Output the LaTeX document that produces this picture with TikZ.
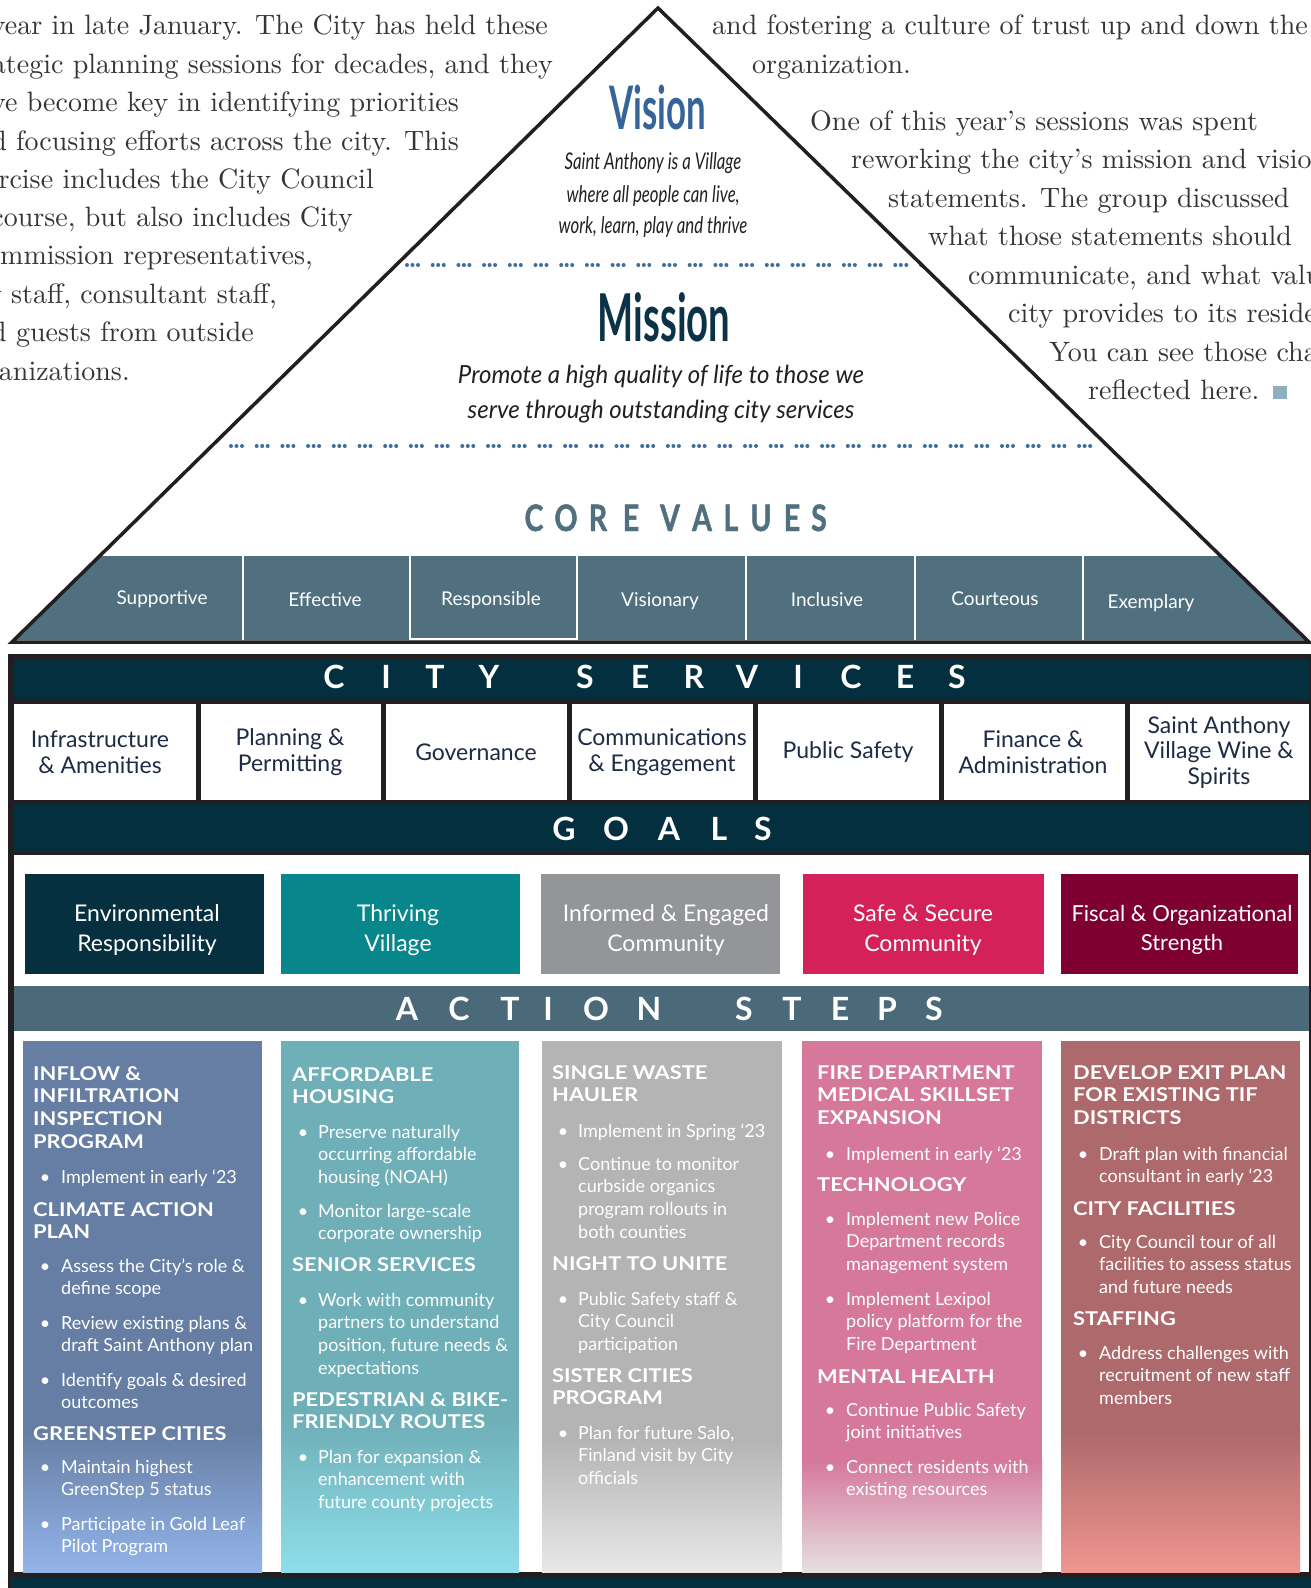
\documentclass[tikz,border=0pt]{standalone}
\usepackage{fontspec}
\setsansfont{Lato}
\newfontfamily\bodyf{lmroman10-regular}[Extension=.otf]
\newfontfamily\titlef[FakeStretch=0.58]{Lato}
\newfontfamily\vsubf[FakeStretch=0.73]{Lato}
\newfontfamily\misf[FakeStretch=0.96]{Lato}
\newfontfamily\cvf[FakeStretch=0.78,FakeBold=1.2]{Lato}
\newfontfamily\hdf[FakeStretch=1.15]{Lato}
\definecolor{navy}{HTML}{032F3E}
\definecolor{framec}{HTML}{231F20}
\definecolor{slate}{HTML}{50707F}
\definecolor{actband}{HTML}{4A6A79}
\definecolor{visblue}{HTML}{35649A}
\definecolor{misnavy}{HTML}{0B3246}
\definecolor{dotblue}{HTML}{3E6D9E}
\definecolor{bodygray}{HTML}{353535}
\definecolor{svctext}{HTML}{1D2B45}
\definecolor{sqblue}{HTML}{8FAFC0}
\definecolor{gEnv}{HTML}{06303F}
\definecolor{gThr}{HTML}{07868C}
\definecolor{gInf}{HTML}{939598}
\definecolor{gSaf}{HTML}{D4215A}
\definecolor{gFis}{HTML}{7E0033}
\definecolor{aOneT}{HTML}{667EA3}\definecolor{aOneB}{HTML}{93B4EA}
\definecolor{aTwoT}{HTML}{6FAFB8}\definecolor{aTwoB}{HTML}{8EDEEA}
\definecolor{aThrT}{HTML}{B4B4B4}\definecolor{aThrB}{HTML}{E8E8E8}
\definecolor{aFouT}{HTML}{D5789A}\definecolor{aFouB}{HTML}{E6E0E2}
\definecolor{aFivT}{HTML}{AD696B}\definecolor{aFivB}{HTML}{F0958F}
\tikzset{
  body/.style={font=\bodyf\fontsize{28}{38}\selectfont, text=bodygray, inner sep=0pt},
  trline/.style={line width=3.5pt, draw=framec, line join=miter},
  dotsline/.style={draw=dotblue, line width=4pt, line cap=round, dash pattern=on 0pt off 5.5pt on 0pt off 5.5pt on 0pt off 14.7pt},
  cvlabel/.style={text=white, font=\sffamily\fontsize{19}{22}\selectfont, inner sep=0pt, anchor=base},
  bandlet/.style={text=white, font=\sffamily\bfseries\fontsize{32}{36}\selectfont, inner sep=0pt, anchor=base},
  cvlet/.style={text=slate, font=\cvf\bfseries\fontsize{36.5}{40}\selectfont, inner sep=0pt, anchor=base},
  svc/.style={text=svctext, font=\sffamily\fontsize{23}{25.5}\selectfont, align=center, inner sep=0pt},
  goal/.style={text=white, font=\sffamily\fontsize{23}{29.4}\selectfont, align=center, inner sep=0pt},
  ahd/.style={text=white, font=\hdf\bfseries\fontsize{19}{22.8}\selectfont, align=left, anchor=north west, inner sep=0pt},
  abl/.style={text=white, font=\sffamily\fontsize{18}{22.8}\selectfont, align=left, anchor=north west, inner sep=0pt},
  bul/.style={text=white, font=\sffamily\fontsize{18}{22.8}\selectfont, anchor=base, inner sep=0pt},
  divl/.style={draw=framec, line width=5pt},
  cvdiv/.style={draw=white, line width=2.5pt}
}
\newcommand\AH[4]{\node[ahd] (#1) at (#2,#3-16) {\strut#4};}
\newcommand\AB[5]{\node[bul] (#1b) at (#2,#4) {\textbullet};\node[abl] (#1) at (#3,#4-16) {\strut#5};}
\begin{document}
\begin{tikzpicture}[x=1pt,y=-1pt]
\useasboundingbox (0,0) rectangle (1311,1588);
\begin{scope}
\clip (0,0) rectangle (1311,1588);
\fill[white] (0,0) rectangle (1311,1588);
% left body text
\node[body,anchor=base east] (l1) at (548,34) {this year in late January. The City has held these};
\node[body,anchor=base east] (l2) at (553,73) {strategic planning sessions for decades, and they};
\node[body,anchor=base east] (l3) at (459,111) {have become key in identifying priorities};
\node[body,anchor=base east] (l4) at (459,150) {and focusing efforts across the city. This};
\node[body,anchor=base east] (l5) at (374,188) {exercise includes the City Council};
\node[body,anchor=base east] (l6) at (353,226) {of course, but also includes City};
\node[body,anchor=base east] (l7) at (313,264) {Commission representatives,};
\node[body,anchor=base east] (l8) at (277,303) {City staff, consultant staff,};
\node[body,anchor=base east] (l9) at (254,341) {and guests from outside};
\node[body,anchor=base east] (l10) at (130,380) {organizations.};
% right body text
\node[body,anchor=base west] (r1) at (712,34) {and fostering a culture of trust up and down the};
\node[body,anchor=base west] (r2) at (752,73) {organization.};
\node[body,anchor=base west] (r3) at (810,130) {One of this year’s sessions was spent};
\node[body,anchor=base west] (r4) at (851,168) {reworking the city’s mission and vision};
\node[body,anchor=base west] (r5) at (888,207) {statements. The group discussed};
\node[body,anchor=base west] (r6) at (928,245) {what those statements should};
\node[body,anchor=base west] (r7) at (968,284) {communicate, and what values the};
\node[body,anchor=base west] (r8) at (1008,322) {city provides to its residents.};
\node[body,anchor=base west] (r9) at (1049,361) {You can see those changes};
\node[body,anchor=base west] (r10) at (1088,399) {reflected here.};
\fill[sqblue] (1273,386) rectangle (1287,399);
% vision / mission
\node[anchor=base, text=visblue, font=\titlef\bfseries\fontsize{60}{60}\selectfont, inner sep=0pt] (vision) at (658,129) {Vision};
\node[anchor=base, text=framec, font=\vsubf\itshape\fontsize{23}{32}\selectfont, inner sep=0pt] (vs1) at (653,169) {Saint Anthony is a Village};
\node[anchor=base, text=framec, font=\vsubf\itshape\fontsize{23}{32}\selectfont, inner sep=0pt] (vs2) at (653,202) {where all people can live,};
\node[anchor=base, text=framec, font=\vsubf\itshape\fontsize{23}{32}\selectfont, inner sep=0pt] (vs3) at (653,233) {work, learn, play and thrive};
\draw[dotsline] (407,265) -- (922,265);
\node[anchor=base, text=misnavy, font=\titlef\bfseries\fontsize{66}{66}\selectfont, inner sep=0pt] (mission) at (664,341) {Mission};
\node[anchor=base, text=framec, font=\misf\itshape\fontsize{25}{35}\selectfont, inner sep=0pt] (ms1) at (661,383) {Promote a high quality of life to those we};
\node[anchor=base, text=framec, font=\misf\itshape\fontsize{25}{35}\selectfont, inner sep=0pt] (ms2) at (661,418) {serve through outstanding city services};
\draw[dotsline] (231,446) -- (1102,446);
% core values heading
\foreach \l/\x in {C/534,O/566,R/598,E/631,V/670,A/702,L/731,U/761,E/792,S/819}
  \node[cvlet] (cv\x) at (\x,531) {\l};
% core values bar
\fill[slate] (100.5,556) -- (1219.8,556) -- (1305.9,640) -- (15,640) -- cycle;
\foreach \x in {243,410,577,746,915,1083}
  \draw[cvdiv] (\x,556) -- (\x,640);
\draw[white, line width=1.5pt] (410,556) -- (410,639) -- (577,639) -- (577,556);
\node[cvlabel] (v1) at (162,604) {Supportive};
\node[cvlabel] (v2) at (325,606) {Effective};
\node[cvlabel] (v3) at (491,605) {Responsible};
\node[cvlabel] (v4) at (660,606) {Visionary};
\node[cvlabel] (v5) at (827,606) {Inclusive};
\node[cvlabel] (v6) at (995,605) {Courteous};
\node[cvlabel] (v7) at (1151,608) {Exemplary};
% triangle
\draw[trline] (12,642) -- (658,8) -- (1309,642) -- cycle;
% lower frame
\fill[framec] (8,654) rectangle (1311,1588);
\fill[navy] (14,659) rectangle (1309,699);
\fill[white] (14,704) rectangle (1309,800);
\foreach \x in {198,383,569,755,941,1127}
  \draw[divl] (\x,702) -- (\x,804);
\fill[navy] (14,804) rectangle (1309,852);
\fill[white] (14,855) rectangle (1309,1572);
\fill[actband] (14,986) rectangle (1309,1031);
\fill[navy] (11,1577) rectangle (1311,1588);
% band letters
\foreach \l/\x in {C/334,I/386,T/435,Y/489,S/585,E/640,R/694,V/747,I/798,C/851,E/905,S/957}
  \node[bandlet] (cs\x) at (\x,688.5) {\l};
\foreach \l/\x in {G/564,O/616,A/669,L/719,S/763}
  \node[bandlet] (go\x) at (\x,840) {\l};
\foreach \l/\x in {A/407,C/459,T/510,I/548,O/596,N/649,S/744,T/792,E/840,P/887,S/934}
  \node[bandlet] (as\x) at (\x,1020) {\l};
% services
\node[svc] (s1) at (100,752) {Infrastructure\\\& Amenities};
\node[svc] (s2) at (290,752) {Planning \&\\Permitting};
\node[svc] (s3) at (476,752) {Governance};
\node[svc] (s4) at (662,752) {Communications\\\& Engagement};
\node[svc] (s5) at (848,752) {Public Safety};
\node[svc] (s6) at (1033,752) {Finance \&\\Administration};
\node[svc] (s7) at (1219,752) {Saint Anthony\\Village Wine \&\\Spirits};
% goals
\fill[gEnv] (25,874) rectangle (264,974);
\fill[gThr] (281,874) rectangle (520,974);
\fill[gInf] (541,874) rectangle (780,974);
\fill[gSaf] (803,874) rectangle (1044,974);
\fill[gFis] (1061,874) rectangle (1298,974);
\node[goal] (g1) at (147,930) {Environmental\\Responsibility};
\node[goal] (g2) at (398,930) {Thriving\\Village};
\node[goal] (g3) at (666,930) {Informed \& Engaged\\Community};
\node[goal] (g4) at (923,930) {Safe \& Secure\\Community};
\node[goal, font=\sffamily\fontsize{22}{29.4}\selectfont] (g5) at (1182,930) {Fiscal \& Organizational\\Strength};
% action columns
\fill[aOneT] (23,1041) rectangle (262,1430);
\shade[top color=aOneT, bottom color=aOneB] (23,1430) rectangle (262,1572);
\fill[aTwoT] (281,1041) rectangle (519,1420);
\shade[top color=aTwoT, bottom color=aTwoB] (281,1420) rectangle (519,1572);
\fill[aThrT] (542,1041) rectangle (782,1440);
\shade[top color=aThrT, bottom color=aThrB] (542,1440) rectangle (782,1572);
\fill[aFouT] (802,1041) rectangle (1042,1460);
\shade[top color=aFouT, bottom color=aFouB] (802,1460) rectangle (1042,1572);
\fill[aFivT] (1061,1041) rectangle (1300,1430);
\shade[top color=aFivT, bottom color=aFivB] (1061,1430) rectangle (1300,1572);
% column 1
\AH{c1h1}{33}{1080}{INFLOW \&\\INFILTRATION\\INSPECTION\\PROGRAM}
\AB{c1b1}{45}{61}{1183}{Implement in early ‘23}
\AH{c1h2}{33}{1216}{CLIMATE ACTION\\PLAN}
\AB{c1b2}{45}{61}{1272}{Assess the City’s role \&\\define scope}
\AB{c1b3}{45}{61}{1329}{Review existing plans \&\\draft Saint Anthony plan}
\AB{c1b4}{45}{61}{1386}{Identify goals \& desired\\outcomes}
\AH{c1h3}{33}{1440}{GREENSTEP CITIES}
\AB{c1b5}{45}{61}{1473}{Maintain highest\\GreenStep 5 status}
\AB{c1b6}{45}{61}{1530}{Participate in Gold Leaf\\Pilot Program}
% column 2
\AH{c2h1}{292}{1081}{AFFORDABLE\\HOUSING}
\AB{c2b1}{303}{318}{1138}{Preserve naturally\\occurring affordable\\housing (NOAH)}
\AB{c2b2}{303}{318}{1217}{Monitor large-scale\\corporate ownership}
\AH{c2h2}{292}{1271}{SENIOR SERVICES}
\AB{c2b3}{303}{318}{1306}{Work with community\\partners to understand\\position, future needs \&\\expectations}
\AH{c2h3}{292}{1406}{PEDESTRIAN \& BIKE-\\FRIENDLY ROUTES}
\AB{c2b4}{303}{318}{1463}{Plan for expansion \&\\enhancement with\\future county projects}
% column 3
\AH{c3h1}{552}{1079}{SINGLE WASTE\\HAULER}
\AB{c3b1}{563}{578}{1137}{Implement in Spring ‘23}
\AB{c3b2}{563}{578}{1170}{Continue to monitor\\curbside organics\\program rollouts in\\both counties}
\AH{c3h2}{552}{1270}{NIGHT TO UNITE}
\AB{c3b3}{563}{578}{1305}{Public Safety staff \&\\City Council\\participation}
\AH{c3h3}{552}{1382}{SISTER CITIES\\PROGRAM}
\AB{c3b4}{563}{578}{1439}{Plan for future Salo,\\Finland visit by City\\officials}
% column 4
\AH{c4h1}{817}{1079}{FIRE DEPARTMENT\\MEDICAL SKILLSET\\EXPANSION}
\AB{c4b1}{830}{846}{1160}{Implement in early ‘23}
\AH{c4h2}{817}{1191}{TECHNOLOGY}
\AB{c4b2}{830}{846}{1225}{Implement new Police\\Department records\\management system}
\AB{c4b3}{830}{846}{1305}{Implement Lexipol\\policy platform for the\\Fire Department}
\AH{c4h3}{817}{1383}{MENTAL HEALTH}
\AB{c4b4}{830}{846}{1416}{Continue Public Safety\\joint initiatives}
\AB{c4b5}{830}{846}{1473}{Connect residents with\\existing resources}
% column 5
\AH{c5h1}{1073}{1079}{DEVELOP EXIT PLAN\\FOR EXISTING TIF\\DISTRICTS}
\AB{c5b1}{1083}{1099}{1160}{Draft plan with financial\\consultant in early ‘23}
\AH{c5h2}{1073}{1215}{CITY FACILITIES}
\AB{c5b2}{1083}{1099}{1248}{City Council tour of all\\facilities to assess status\\and future needs}
\AH{c5h3}{1073}{1325}{STAFFING}
\AB{c5b3}{1083}{1099}{1359}{Address challenges with\\recruitment of new staff\\members}
\end{scope}
\end{tikzpicture}
\end{document}
